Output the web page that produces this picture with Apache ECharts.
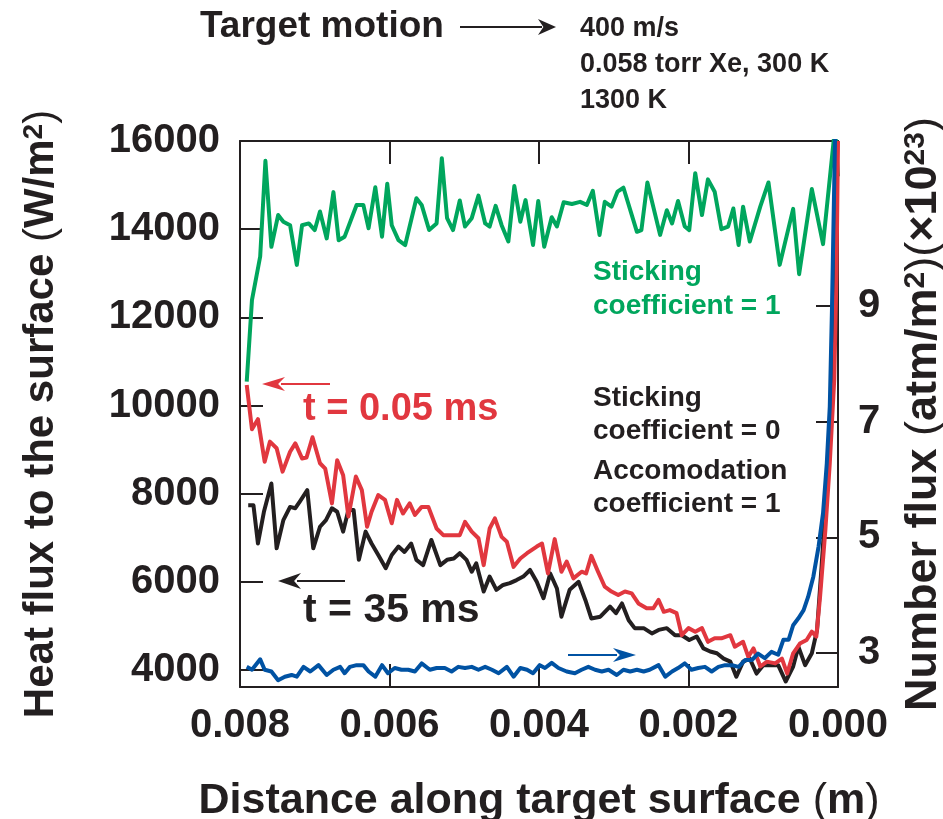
<!DOCTYPE html>
<html>
<head>
<meta charset="utf-8">
<script src="https://cdn.jsdelivr.net/npm/echarts@6/dist/echarts.min.js"></script>
<style>html,body{margin:0;padding:0;background:#fff}#c{width:943px;height:819px}</style>
</head>
<body>
<div id="c"></div>
<script>
// ---- data (distance in m, heat flux in W/m^2, number flux in 1e23 atm/m^2) ----
const xTicks = [0, 0.002, 0.004, 0.006, 0.008];
const leftTicks = [4000, 6000, 8000, 10000, 12000, 14000, 16000];
const rightTicks = [3, 5, 7, 9];

const greenX = [0.00791,0.00784,0.00773,0.00766,0.00758,0.00749,0.00742,0.00733,0.00724,0.00717,0.00708,0.00700,0.00693,0.00684,0.00675,0.00668,0.00660,0.00644,0.00635,0.00628,0.00619,0.00610,0.00603,0.00597,0.00588,0.00579,0.00564,0.00557,0.00547,0.00537,0.00530,0.00523,0.00515,0.00506,0.00499,0.00490,0.00481,0.00472,0.00466,0.00458,0.00450,0.00441,0.00433,0.00425,0.00418,0.00408,0.00401,0.00393,0.00383,0.00376,0.00367,0.00356,0.00345,0.00336,0.00328,0.00319,0.00312,0.00303,0.00295,0.00287,0.00269,0.00263,0.00255,0.00238,0.00229,0.00222,0.00214,0.00205,0.00199,0.00191,0.00182,0.00174,0.00165,0.00156,0.00147,0.00140,0.00133,0.00127,0.00118,0.00104,0.00093,0.00078,0.00060,0.00052,0.00035,0.00020,0.00004,0.00000];
const greenY = [10540,12390,13380,15550,13600,14320,14170,14090,13190,14090,14130,13980,14400,13790,14840,13750,13830,14550,14550,14020,14950,13830,15030,14090,13750,13640,14700,14550,13980,14130,15610,14250,13980,14650,14060,14250,14760,14130,14060,14530,14090,13720,14980,14170,14660,13640,14640,13600,14270,14060,14610,14570,14620,14550,14870,13870,14620,14510,14850,14940,13940,13980,15060,13870,14430,14130,14640,14060,13980,15270,14320,15130,14850,14000,14060,14470,13640,14510,13720,14510,15060,13190,14460,12980,14910,13660,16300,15200];

const redX = [0.00791,0.00784,0.00776,0.00767,0.00760,0.00751,0.00743,0.00733,0.00726,0.00717,0.00711,0.00703,0.00693,0.00686,0.00677,0.00670,0.00662,0.00655,0.00645,0.00637,0.00630,0.00624,0.00615,0.00606,0.00597,0.00590,0.00582,0.00573,0.00566,0.00557,0.00548,0.00537,0.00528,0.00517,0.00506,0.00499,0.00490,0.00481,0.00474,0.00466,0.00459,0.00450,0.00443,0.00434,0.00425,0.00416,0.00410,0.00403,0.00396,0.00388,0.00379,0.00370,0.00363,0.00354,0.00343,0.00337,0.00330,0.00321,0.00312,0.00303,0.00294,0.00285,0.00276,0.00267,0.00256,0.00247,0.00240,0.00233,0.00225,0.00216,0.00209,0.00200,0.00191,0.00182,0.00174,0.00165,0.00156,0.00144,0.00138,0.00127,0.00120,0.00113,0.00104,0.00095,0.00084,0.00075,0.00068,0.00060,0.00051,0.00042,0.00035,0.00029,0.00024,0.00017,0.00011,0.00005,0.00002,0.00000];
const redY = [10465,9460,9690,8725,9180,9030,8500,8950,9140,8800,8820,9280,8690,8570,7780,8760,8420,7480,8390,8080,7250,7590,7970,7860,7330,7860,7550,7780,7520,7700,7700,7210,7060,7060,7060,7360,7140,6990,6380,7210,7440,7020,6910,6340,6530,6650,6720,6800,6870,6190,6970,6230,6460,6080,6230,6190,6590,6230,5890,5780,5700,5780,5740,5510,5400,5400,5590,5320,5360,5290,4790,4950,4870,4950,4640,4720,4720,4790,4530,4640,4300,4490,4080,4190,4150,4260,3920,4380,4600,4680,4870,4760,5660,7150,8690,10600,13000,16000];

const blackX = [0.00789,0.00782,0.00776,0.00768,0.00758,0.00751,0.00742,0.00733,0.00726,0.00720,0.00710,0.00702,0.00693,0.00685,0.00677,0.00670,0.00662,0.00655,0.00648,0.00641,0.00632,0.00624,0.00615,0.00605,0.00597,0.00588,0.00580,0.00571,0.00564,0.00555,0.00544,0.00532,0.00523,0.00514,0.00506,0.00497,0.00490,0.00484,0.00474,0.00466,0.00457,0.00448,0.00439,0.00430,0.00421,0.00412,0.00403,0.00394,0.00385,0.00376,0.00370,0.00359,0.00347,0.00338,0.00330,0.00318,0.00305,0.00297,0.00289,0.00280,0.00272,0.00260,0.00249,0.00240,0.00229,0.00218,0.00209,0.00199,0.00189,0.00180,0.00171,0.00162,0.00153,0.00144,0.00136,0.00127,0.00118,0.00109,0.00100,0.00091,0.00080,0.00070,0.00060,0.00053,0.00044,0.00035,0.00028,0.00022,0.00015,0.00008,0.00004,0.00001];
const blackY = [7740,7740,6870,7590,8230,6760,7400,7700,7670,7820,8080,6760,7250,7400,7670,7590,7140,7630,7630,6500,7140,6870,6610,6310,6610,6800,6680,6870,6500,6380,6950,6380,6500,6530,6650,6500,6230,6420,5780,6120,5820,5930,5970,6040,6120,6270,6000,5630,6190,5850,5210,5820,6000,5590,5170,5210,5440,5290,5510,5130,4950,4950,4830,4910,4950,4790,4790,4680,4760,4490,4420,4380,4260,4190,3850,4190,4260,3920,4110,4110,4110,3740,4080,4530,4110,4380,4910,6340,8160,10120,12500,16000];

const blueX = [0.00791,0.00784,0.00773,0.00767,0.00758,0.00749,0.00740,0.00731,0.00724,0.00715,0.00706,0.00695,0.00684,0.00675,0.00666,0.00660,0.00653,0.00644,0.00635,0.00628,0.00619,0.00610,0.00602,0.00593,0.00584,0.00575,0.00566,0.00557,0.00546,0.00537,0.00526,0.00517,0.00508,0.00499,0.00490,0.00481,0.00472,0.00463,0.00454,0.00443,0.00434,0.00425,0.00416,0.00408,0.00399,0.00392,0.00383,0.00374,0.00363,0.00352,0.00343,0.00334,0.00325,0.00316,0.00307,0.00296,0.00287,0.00278,0.00269,0.00260,0.00252,0.00240,0.00231,0.00222,0.00214,0.00205,0.00196,0.00187,0.00178,0.00169,0.00160,0.00151,0.00142,0.00133,0.00124,0.00115,0.00107,0.00098,0.00089,0.00080,0.00073,0.00066,0.00060,0.00053,0.00046,0.00040,0.00033,0.00026,0.00020,0.00015,0.00011,0.00008,0.00004,0.00002];
const blueY = [2.76,2.71,2.89,2.71,2.68,2.53,2.59,2.62,2.59,2.76,2.68,2.79,2.62,2.71,2.76,2.65,2.76,2.79,2.79,2.68,2.59,2.79,2.65,2.74,2.71,2.71,2.68,2.82,2.71,2.74,2.74,2.68,2.76,2.74,2.76,2.71,2.76,2.71,2.65,2.76,2.59,2.74,2.71,2.65,2.79,2.74,2.83,2.74,2.68,2.65,2.71,2.76,2.71,2.68,2.71,2.62,2.71,2.68,2.71,2.68,2.71,2.79,2.59,2.68,2.74,2.82,2.71,2.74,2.76,2.68,2.76,2.79,2.79,2.76,2.88,2.88,2.99,2.91,3.02,2.97,3.23,3.23,3.48,3.60,3.74,3.97,4.32,4.84,5.42,6.28,7.26,8.99,11.87,12.6];

const zip = (xs, ys) => xs.map((x, i) => [x, ys[i]]);

// ---- styling ----
const FONT = '"Liberation Sans", Arial, Helvetica, sans-serif';
const INK = '#231f20';
const GREEN = '#00a65d', RED = '#e1373f', BLUE = '#0052a3';

const chart = echarts.init(document.getElementById('c'), null, {renderer: 'canvas'});

const nameRich = (size) => ({
  t: {fontSize: size, fontWeight: 'bold', fontFamily: FONT, color: INK},
  p: {fontSize: size, fontWeight: 'normal', fontFamily: FONT, color: INK},
  s: {fontSize: Math.round(size * 0.66), fontWeight: 'bold', fontFamily: FONT, color: INK, verticalAlign: 'top'}
});

const lineSeries = (name, data, color, yIdx) => ({
  name, type: 'line', data, xAxisIndex: 0, yAxisIndex: yIdx,
  showSymbol: false, symbol: 'none', clip: true, animation: false,
  lineStyle: {color, width: 4, join: 'round'}
});

function arrow(x1, x2, y, color, head, half, w) {
  const dir = x2 > x1 ? 1 : -1;
  const back = x2 - dir * head;
  return [
    {type: 'line', shape: {x1, y1: y, x2: back + dir * 4, y2: y}, style: {stroke: color, lineWidth: w}},
    {type: 'polygon', shape: {points: [[x2, y], [back, y - half], [back + dir * head * 0.3, y], [back, y + half]]}, style: {fill: color}}
  ];
}

const txt = (text, x, y, size, color, extra) => Object.assign({
  type: 'text', x, y,
  style: {text, fontSize: size, fontWeight: 'bold', fontFamily: FONT, fill: color, textVerticalAlign: 'middle', textAlign: 'left'}
}, extra || {});

const tickLine = {color: INK, width: 2};

chart.setOption({
  animation: false,
  backgroundColor: '#fff',
  grid: {left: 240, right: 105, top: 141, bottom: 132, containLabel: false, outerBoundsMode: 'none'},
  xAxis: [{
    type: 'value', position: 'bottom', inverse: true, min: 0, max: 0.008, interval: 0.002,
    axisLine: {show: true, onZero: false, lineStyle: tickLine},
    axisTick: {show: true, inside: true, length: 23, lineStyle: tickLine},
    axisLabel: {show: true, margin: 19, fontSize: 40, fontWeight: 'bold', fontFamily: FONT, color: INK,
      formatter: v => v.toFixed(3)},
    splitLine: {show: false},
    name: '{t|Distance along target surface }{p|(}{t|m}{p|)}',
    nameLocation: 'middle', nameGap: 93,
    nameTextStyle: {rich: nameRich(43)}
  }, {
    type: 'value', position: 'top', inverse: true, min: 0, max: 0.008, interval: 0.002,
    axisLine: {show: true, onZero: false, lineStyle: tickLine},
    axisTick: {show: true, inside: true, length: 23, lineStyle: tickLine},
    axisLabel: {show: false}, splitLine: {show: false}
  }],
  yAxis: [{
    type: 'value', position: 'left', min: 3615, max: 16000,
    axisLine: {show: true, onZero: false, lineStyle: tickLine},
    axisTick: {show: true, inside: true, length: 23, customValues: leftTicks, lineStyle: tickLine},
    axisLabel: {show: true, margin: 20, customValues: leftTicks, fontSize: 40, fontWeight: 'bold', fontFamily: FONT, color: INK,
      formatter: v => String(v)},
    splitLine: {show: false},
    name: '{t|Heat flux to the surface }{p|(}{t|W/m}{s|2}{p|)}',
    nameLocation: 'middle', nameRotate: 90, nameGap: 178,
    nameTextStyle: {rich: nameRich(42)}
  }, {
    type: 'value', position: 'right', min: 2.412, max: 11.853,
    axisLine: {show: true, onZero: false, lineStyle: tickLine},
    axisTick: {show: true, inside: true, length: 22, customValues: rightTicks, lineStyle: tickLine},
    axisLabel: {show: true, margin: 20, customValues: rightTicks, fontSize: 40, fontWeight: 'bold', fontFamily: FONT, color: INK,
      formatter: v => String(v)},
    splitLine: {show: false},
    name: '{t|Number flux }{p|(}{t|atm/m}{s|2}{p|)(}{t|×10}{s|23}{p|)}',
    nameLocation: 'middle', nameRotate: 90, nameGap: 63,
    nameTextStyle: {rich: nameRich(45)}
  }],
  series: [
    lineSeries('Sticking coefficient = 1', zip(greenX, greenY), GREEN, 0),
    lineSeries('t = 35 ms', zip(blackX, blackY), INK, 0),
    lineSeries('t = 0.05 ms', zip(redX, redY), RED, 0),
    lineSeries('Number flux', zip(blueX, blueY), BLUE, 1)
  ],
  graphic: [
    txt('Target motion', 200, 27, 37, INK),
    ...arrow(460, 556, 27, INK, 18, 8, 2),
    txt('400 m/s', 580, 29, 27, INK),
    txt('0.058 torr Xe, 300 K', 580, 65, 27, INK),
    txt('1300 K', 580, 101, 27, INK),
    txt('Sticking', 593, 272, 28, GREEN),
    txt('coefficient = 1', 593, 306, 28, GREEN),
    txt('t = 0.05 ms', 303, 410, 38, RED),
    ...arrow(330, 262, 384, RED, 23, 7, 2),
    txt('Sticking', 593, 398, 28, INK),
    txt('coefficient = 0', 593, 431, 28, INK),
    txt('Accomodation', 593, 471, 28, INK),
    txt('coefficient = 1', 593, 504, 28, INK),
    txt('t = 35 ms', 303, 611, 41, INK),
    ...arrow(345, 278, 581, INK, 23, 8, 2),
    ...arrow(568, 636, 655, BLUE, 23, 7, 2)
  ]
});
</script>
</body>
</html>
